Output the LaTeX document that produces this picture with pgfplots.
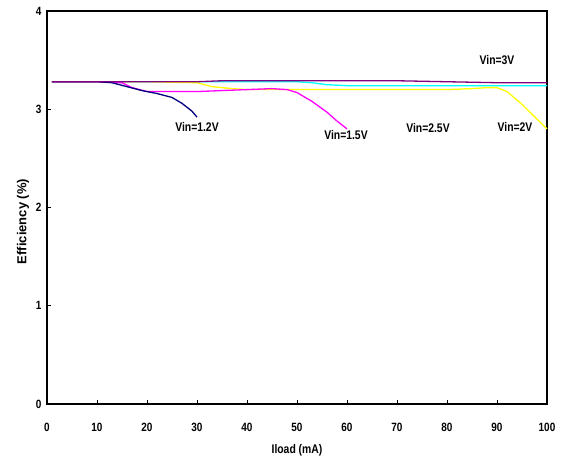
\documentclass[border=0pt]{standalone}
\usepackage{fontspec}
\setmainfont{Liberation Sans}[FakeStretch=0.83]
\newfontfamily\ylabfont{Liberation Sans}
\usepackage{pgfplots}
\pgfplotsset{compat=1.18}
\definecolor{cCyan}{RGB}{0,255,255}
\definecolor{cYellow}{RGB}{255,255,0}
\definecolor{cMagenta}{RGB}{255,0,255}
\definecolor{cNavy}{RGB}{0,0,128}
\definecolor{cPurple}{RGB}{128,0,128}
\begin{document}
\begin{tikzpicture}[x=1pt,y=1pt]
\path[use as bounding box] (-47,-59) rectangle (516,404);
\begin{axis}[
  at={(0,0)}, anchor=origin,
  scale only axis, width=500pt, height=393pt,
  xmin=0, xmax=100, ymin=0, ymax=4,
  xtick={0,10,...,100}, ytick={0,1,2,3,4},
  tick align=inside, tick pos=left,
  major tick length=4pt,
  axis line style={line width=1.2pt},
  every tick/.style={black, line width=0.8pt},
  /pgf/number format/assume math mode=true,
  ticklabel style={font=\fontsize{12}{14}\selectfont\bfseries},
  xticklabel style={yshift=-16pt},
  yticklabel style={xshift=-2pt},
  xlabel style={font=\fontsize{12.5}{14}\selectfont\bfseries, yshift=-6pt},
  ylabel style={font=\fontsize{13}{15}\ylabfont\bfseries, yshift=0pt, xshift=-14pt},
  xlabel={Iload (mA)}, ylabel={Efficiency (\%)},
  clip=false,
]
\addplot[color=cCyan, line width=1.3pt] coordinates {
(1,3.28) (10,3.28) (20,3.28) (30,3.28) (40,3.28) (50,3.28) (53,3.27) (56,3.25) (60,3.24) (70,3.24) (80,3.24) (90,3.24) (100,3.24)};
\addplot[color=cYellow, line width=1.3pt] coordinates {
(1,3.28) (10,3.28) (20,3.28) (30,3.27) (33,3.23) (37,3.21) (40,3.20) (50,3.20) (60,3.20) (70,3.20) (80,3.20) (85,3.21) (88,3.22) (90,3.22) (92,3.18) (95,3.05) (98,2.90) (100,2.80)};
\addplot[color=cMagenta, line width=1.3pt] coordinates {
(1,3.28) (10,3.28) (15,3.27) (17,3.22) (20,3.18) (25,3.18) (30,3.18) (35,3.19) (40,3.20) (45,3.21) (48,3.20) (50,3.17) (53,3.08) (56,2.97) (58,2.88) (60,2.80)};
\addplot[color=cNavy, line width=1.3pt] coordinates {
(1,3.28) (10,3.28) (13,3.27) (16,3.23) (19,3.19) (22,3.16) (25,3.12) (27,3.06) (29,2.98) (30,2.92)};
\addplot[color=cPurple, line width=1.3pt] coordinates {
(1,3.28) (10,3.28) (20,3.28) (30,3.28) (35,3.29) (50,3.29) (60,3.29) (70,3.29) (80,3.28) (90,3.27) (100,3.27)};
\begin{scope}[font=\fontsize{12.5}{14}\selectfont\bfseries]
\node at (axis cs:90,3.50) {Vin=3V};
\node at (axis cs:76.2,2.81) {Vin=2.5V};
\node at (axis cs:93.6,2.82) {Vin=2V};
\node at (axis cs:30.0,2.82) {Vin=1.2V};
\node at (axis cs:59.8,2.74) {Vin=1.5V};
\end{scope}
\end{axis}
\end{tikzpicture}
\end{document}
